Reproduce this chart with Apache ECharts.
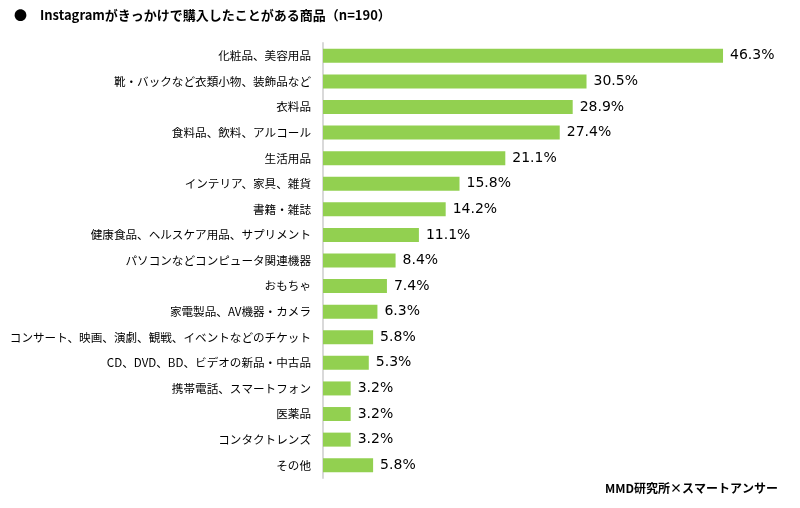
<!DOCTYPE html>
<html><head><meta charset="utf-8">
<script src="https://cdn.jsdelivr.net/npm/echarts@6/dist/echarts.min.js"></script>
<style>html,body{margin:0;padding:0;background:#fff}#c{width:800px;height:508px}</style>
</head><body><div id="c"></div>
<script>
const categories = ["化粧品、美容用品","靴・バックなど衣類小物、装飾品など","衣料品","食料品、飲料、アルコール","生活用品","インテリア、家具、雑貨","書籍・雑誌","健康食品、ヘルスケア用品、サプリメント","パソコンなどコンピュータ関連機器","おもちゃ","家電製品、AV機器・カメラ","コンサート、映画、演劇、観戦、イベントなどのチケット","CD、DVD、BD、ビデオの新品・中古品","携帯電話、スマートフォン","医薬品","コンタクトレンズ","その他"];
const values = [46.3,30.5,28.9,27.4,21.1,15.8,14.2,11.1,8.4,7.4,6.3,5.8,5.3,3.2,3.2,3.2,5.8];
const titleText = "●　Instagramがきっかけで購入したことがある商品（n=190）";
const sourceText = "MMD研究所×スマートアンサー";
const FONT = "'Noto Sans CJK JP','Noto Sans',sans-serif";
const chart = echarts.init(document.getElementById('c'));
chart.setOption({
  animation:false,
  textStyle:{fontFamily:FONT},
  graphic:[
    {type:'text',left:14,top:9,style:{text:titleText,font:"bold 13px "+FONT,fill:'#000'}},
    {type:'text',right:22,top:482,style:{text:sourceText,font:"bold 12px "+FONT,fill:'#000'}}
  ],
  grid:{left:323,top:43,width:432,height:435,containLabel:false,outerBoundsMode:'none'},
  xAxis:{type:'value',min:0,max:50,show:false},
  yAxis:{type:'category',data:categories,inverse:true,
    axisLine:{show:true,lineStyle:{color:'#d9d9d9',width:2}},
    axisTick:{show:false},
    axisLabel:{color:'#000',fontSize:11.6,margin:12,fontFamily:FONT}},
  series:[{type:'bar',data:values,barWidth:14,
    itemStyle:{color:'#92d050'},
    label:{show:true,position:'right',distance:7,color:'#000',fontSize:14,fontFamily:"'DejaVu Sans',sans-serif",
      formatter:p=>p.value.toFixed(1)+'%'}}]
});
</script></body></html>
